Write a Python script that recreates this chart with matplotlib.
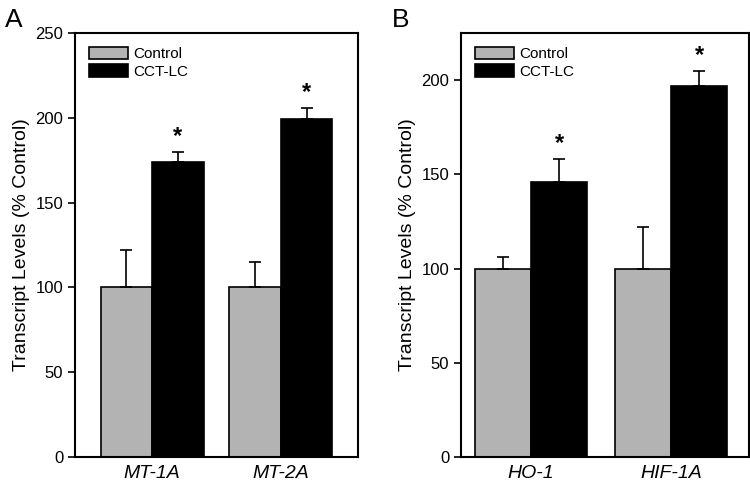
import numpy as np
import matplotlib.pyplot as plt

plt.rcParams['font.family'] = ['Liberation Sans', 'DejaVu Sans']

# Panel A data
genes_a = ['MT-1A', 'MT-2A']
control_a = [100, 100]
control_err_a = [22, 15]
cct_a = [174, 199]
cct_err_a = [6, 7]

# Panel B data
genes_b = ['HO-1', 'HIF-1A']
control_b = [100, 100]
control_err_b = [6, 22]
cct_b = [146, 197]
cct_err_b = [12, 8]

gray = '#b3b3b3'
width = 0.4

fig = plt.figure(figsize=(7.5, 4.88), dpi=100)
ax_a = fig.add_axes([0.100, 0.0635, 0.3773, 0.869])
ax_b = fig.add_axes([0.6147, 0.0635, 0.3833, 0.869])


def draw_panel(ax, genes, ctrl, ctrl_err, cct, cct_err, ylim, xlim):
    x = np.arange(len(genes))
    ekw = dict(elinewidth=1.2, capsize=4, capthick=1.2, ecolor='black')
    ax.bar(x - width / 2, ctrl, width, color=gray, edgecolor='black',
           linewidth=1.2, label='Control',
           yerr=[np.zeros(len(ctrl)), ctrl_err], error_kw=ekw)
    ax.bar(x + width / 2, cct, width, color='black', edgecolor='black',
           linewidth=1.2, label='CCT-LC',
           yerr=[np.zeros(len(cct)), cct_err], error_kw=ekw)
    for xi, v, e in zip(x, cct, cct_err):
        ax.text(xi + width / 2, v + e + 2, '*', ha='center', va='bottom',
                fontsize=17, fontweight='bold')
    ax.set_xlim(*xlim)
    ax.set_ylim(*ylim)
    ax.set_xticks(x)
    ax.set_xticklabels(genes, fontsize=14, style='italic')
    ax.tick_params(axis='x', length=0, pad=6)
    ax.tick_params(axis='y', direction='out', length=5, width=1.2, labelsize=12)
    ax.set_yticks(np.arange(0, ylim[1] + 1, 50))
    ax.set_ylabel('Transcript Levels (% Control)', fontsize=14)
    for s in ax.spines.values():
        s.set_linewidth(1.5)
    leg = ax.legend(loc='upper left', fontsize=11, frameon=False,
                    handlelength=2.6, handleheight=0.9, handletextpad=0.3,
                    labelspacing=0.2, borderaxespad=0.5)
    return ax


draw_panel(ax_a, genes_a, control_a, control_err_a, cct_a, cct_err_a,
           (0, 250), (-0.6, 1.6))
draw_panel(ax_b, genes_b, control_b, control_err_b, cct_b, cct_err_b,
           (0, 225), (-0.5, 1.55))

fig.text(0.007, 0.945, 'A', fontsize=19)
fig.text(0.522, 0.945, 'B', fontsize=19)

fig.savefig('out.png', dpi=100)
